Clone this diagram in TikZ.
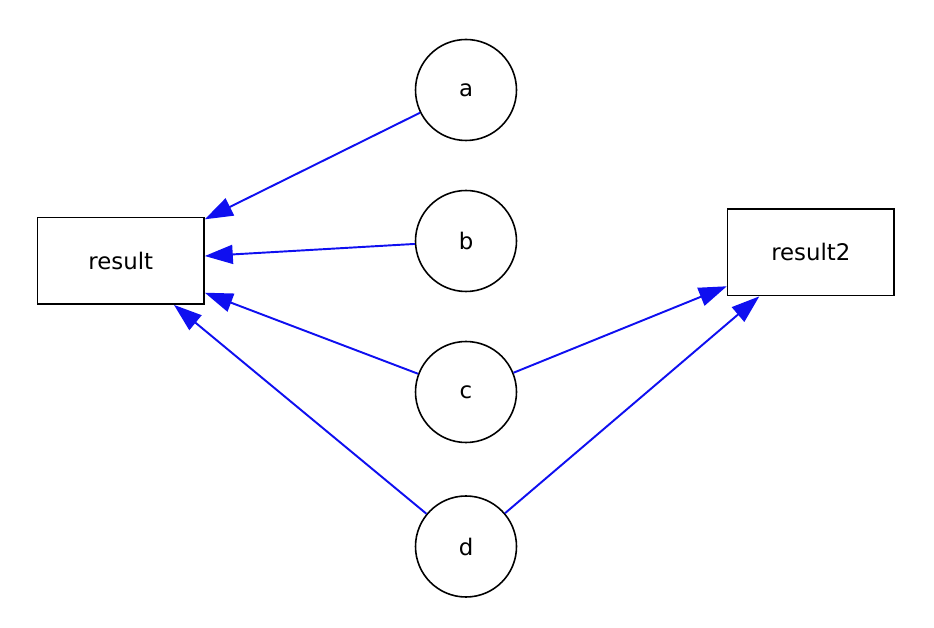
\documentclass[tikz,border=0pt]{standalone}
\usepackage{fontspec}
\setmainfont{DejaVu Sans}
\usepackage{xcolor}
\usetikzlibrary{arrows.meta}
\definecolor{LinkBlue}{RGB}{15,15,240}

\begin{document}
\begin{tikzpicture}[
            var/.style={circle, draw=black, line width=0.9pt,
                        minimum size=2.02cm, inner sep=0pt,
                        font=\fontsize{13}{15}\selectfont},
            res/.style={rectangle, draw=black, line width=0.9pt,
                        minimum width=3.33cm, minimum height=1.73cm,
                        font=\fontsize{13}{15}\selectfont},
            link/.style={draw=LinkBlue, line width=1.1pt,
                         -{Triangle[length=0.56cm, width=0.38cm]}}
          ]
          \useasboundingbox (0,0) rectangle (18.68,12.56);

          % Result boxes
          \node[res] (r1) at (2.415, 7.343) {result};
          \node[res] (r2) at (16.217, 7.513) {result2};

          % Inputs
          \node[var] (a) at (9.32, 10.76) {a};
          \node[var] (b) at (9.32, 7.74) {b};
          \node[var] (c) at (9.32, 4.72) {c};
          \node[var] (d) at (9.32, 1.63) {d};

          % Links
          \draw[link] (a) -- (r1);
          \draw[link] (b) -- (r1);
          \draw[link] (c) -- (r1);
          \draw[link] (d) -- (r1);
          \draw[link] (c) -- (r2);
          \draw[link] (d) -- (r2);
        \end{tikzpicture}
\end{document}
